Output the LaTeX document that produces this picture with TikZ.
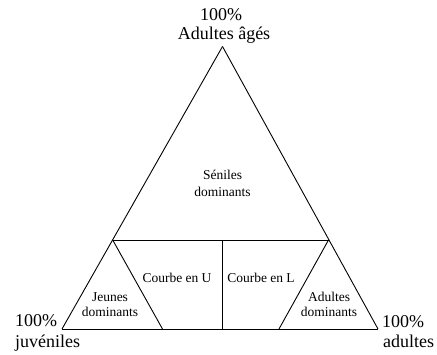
\documentclass[tikz,border=0pt]{standalone}
\usepackage{fontspec}
\setmainfont{Liberation Serif}
\usepackage{tikz}

\begin{document}
\begin{tikzpicture}[x=1pt,y=-1pt,
	big/.style={anchor=base,inner sep=0pt,font=\fontsize{18}{20}\selectfont},
	small/.style={anchor=base,inner sep=0pt,font=\fontsize{13.5}{16}\selectfont}]

\useasboundingbox (0,0) rectangle (437,355);

\coordinate (top) at (222.5,46.5);
\coordinate (bl) at (62,329);
\coordinate (br) at (378,329);
\coordinate (ml) at (112.7,240);
\coordinate (mr) at (328.5,240);
\coordinate (mt) at (222,240);
\coordinate (mb) at (222,329);
\coordinate (jb) at (162.5,329);
\coordinate (ab) at (279,329);

\foreach \from/\to in {top/bl, bl/br, br/top, ml/mr, mt/mb, ml/jb, mr/ab}
	\draw[line width=0.9pt] (\from) to (\to);

\node[big] (ctop) at (221,20.5) {100\%};
\node[big] (ages) at (224,40) {Adultes âgés};
\node[big,anchor=base west] (cleft) at (15,327) {100\%};
\node[big,anchor=base west] (juv) at (15,347.5) {juvéniles};
\node[big,anchor=base west] (cright) at (382,328) {100\%};
\node[big,anchor=base west] (adu) at (383,348) {adultes};

\node[small] (sen) at (222.5,180) {Séniles};
\node[small] (sendom) at (222.5,196.5) {dominants};
\node[small] (curu) at (177,283) {Courbe en U};
\node[small] (curl) at (261,283) {Courbe en L};
\node[small] (jeu) at (110,301.5) {Jeunes};
\node[small] (jeudom) at (110,316.5) {dominants};
\node[small] (adul) at (329,301.5) {Adultes};
\node[small] (aduldom) at (329,316.5) {dominants};

\end{tikzpicture}
\end{document}
